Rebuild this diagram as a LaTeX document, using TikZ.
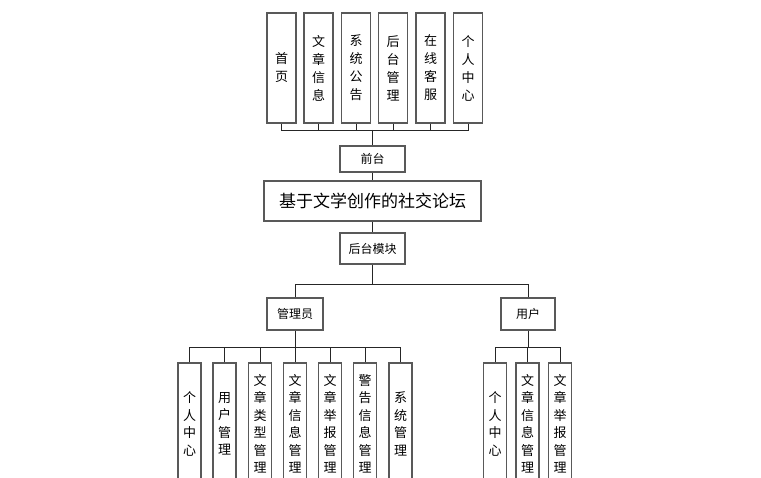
\documentclass[tikz,border=0pt]{standalone}
\usepackage{fontspec}
\newfontfamily\cjk{Noto Sans CJK SC}
\usetikzlibrary{positioning}
\tikzset{
x=1pt, y=-1pt, % pixel-like units, y grows downwards
box/.style={draw=gray!70!black, line width=1.1pt, fill=white, inner sep=0pt, font=\cjk\fontsize{12}{14}\selectfont}, % plain module box
topbox/.style={box, minimum width=29pt, minimum height=110pt, align=center, font=\cjk\fontsize{13}{18}\selectfont}, % front-end pages
subbox/.style={box, minimum width=23pt, minimum height=122pt, align=center, font=\cjk\fontsize{13}{17.5}\selectfont}, % back-end functions
link/.style={draw=black!85, line width=0.8pt}, % tree lines
}
\begin{document}
\begin{tikzpicture}

            \useasboundingbox (0,0) rectangle (761,478);
            \clip (0,0) rectangle (761,478);

            % front-end row
            \node[topbox] (sy) at (281.5,68) {首\\页};
            \node[topbox] (wz) at (318.5,68) {文\\章\\信\\息};
            \node[topbox] (gg) at (356,68) {系\\统\\公\\告};
            \node[topbox] (hg) at (393,68) {后\\台\\管\\理};
            \node[topbox] (kf) at (430.5,68) {在\\线\\客\\服};
            \node[topbox] (gr) at (468,68) {个\\人\\中\\心};
            \coordinate (tb) at (372.5,130);

            \node[box, minimum width=65pt, minimum height=26pt] (qt) at (372.5,159) {前台};
            \node[box, minimum width=217pt, minimum height=40pt, font=\cjk\fontsize{17}{20}\selectfont] (main) at (372.5,201) {基于文学创作的社交论坛};
            \node[box, minimum width=65pt, minimum height=31pt] (ht) at (372.5,248.5) {后台模块};
            \coordinate (hb) at (372.5,284);

            \node[box, minimum width=56pt, minimum height=32pt] (gly) at (295,314) {管理员};
            \node[box, minimum width=54pt, minimum height=32pt] (yh) at (528,314) {用户};
            \coordinate (gb) at (295,347);
            \coordinate (ub) at (528,347);

            % admin functions
            \node[subbox] (g1) at (189.5,424) {个\\人\\中\\心};
            \node[subbox] (g2) at (224.5,424) {用\\户\\管\\理};
            \node[subbox] (g3) at (260,424) {文\\章\\类\\型\\管\\理};
            \node[subbox] (g4) at (295,424) {文\\章\\信\\息\\管\\理};
            \node[subbox] (g5) at (330,424) {文\\章\\举\\报\\管\\理};
            \node[subbox] (g6) at (365,424) {警\\告\\信\\息\\管\\理};
            \node[subbox] (g7) at (400.5,424) {系\\统\\管\\理};

            % user functions
            \node[subbox] (u1) at (495,424) {个\\人\\中\\心};
            \node[subbox] (u2) at (527.5,424) {文\\章\\信\\息\\管\\理};
            \node[subbox] (u3) at (560,424) {文\\章\\举\\报\\管\\理};

            \draw[link] (sy.south) |- (tb) (wz.south) |- (tb) (gg.south) |- (tb)
                        (hg.south) |- (tb) (kf.south) |- (tb) (gr.south) |- (tb)
                        (tb) -- (qt.north)
                        (qt.south) -- (main.north)
                        (main.south) -- (ht.north)
                        (ht.south) -- (hb)
                        (gly.north) |- (hb) (yh.north) |- (hb)
                        (gly.south) -- (gb)
                        (g1.north) |- (gb) (g2.north) |- (gb) (g3.north) |- (gb) (g4.north) |- (gb)
                        (g5.north) |- (gb) (g6.north) |- (gb) (g7.north) |- (gb)
                        (yh.south) -- (ub)
                        (u1.north) |- (ub) (u2.north) |- (ub) (u3.north) |- (ub);
        \end{tikzpicture}
\end{document}
